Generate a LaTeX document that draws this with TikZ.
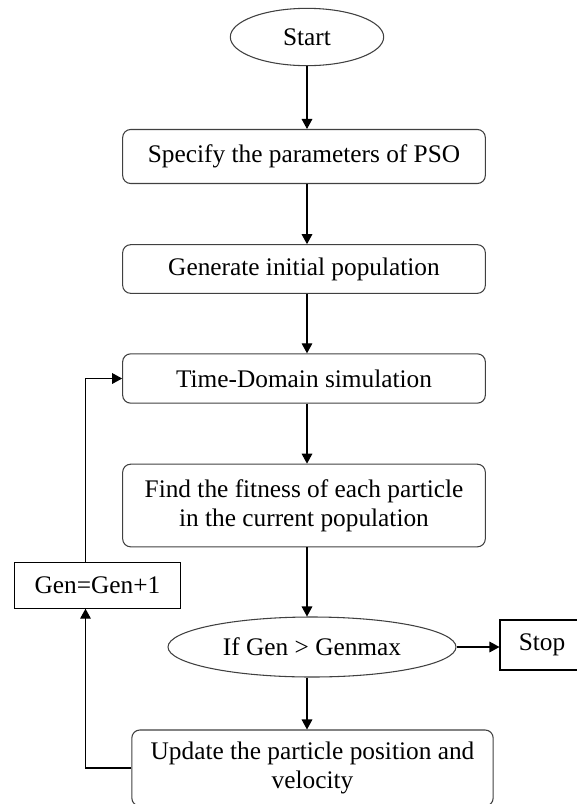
\documentclass[tikz,border=0pt]{standalone}
\usepackage{fontspec}
\setmainfont{Liberation Serif}
\usetikzlibrary{arrows.meta,shapes.geometric}
\begin{document}
\begin{tikzpicture}[x=0.75pt,y=-0.75pt,
  every node/.style={font=\fontsize{19}{22}\selectfont},
  proc/.style={draw=black!75, line width=0.8pt, rounded corners=6pt, minimum width=272pt, align=center, inner sep=0pt},
  term/.style={draw=black!75, line width=0.8pt, ellipse, inner sep=0pt},
  plainbox/.style={draw, line width=0.8pt, inner sep=0pt},
  flow/.style={line width=0.8pt, -{Triangle[length=7.5pt,width=8pt]}}]
\useasboundingbox (0,0) rectangle (576,804);
\node[term, minimum width=115pt, minimum height=43pt] (start) at (307,37) {Start};
\node[proc, minimum height=40.5pt] (param) at (304,156.5) {Specify the parameters of PSO};
\node[proc, minimum height=36.5pt] (init) at (304,269) {Generate initial population};
\node[proc, minimum height=37pt] (sim) at (304,378.5) {Time-Domain simulation};
\node[proc, minimum height=62pt] (fit) at (304,505.5) {Find the fitness of each particle\\in the current population};
\node[term, minimum width=216pt, minimum height=45pt] (cond) at (312,647) {If Gen > Genmax};
\node[plainbox, minimum width=63pt, minimum height=37.5pt] (stop) at (542,645) {Stop};
\node[plainbox, minimum width=125pt, minimum height=34pt] (gen) at (97.5,585.5) {Gen=Gen+1};
\node[proc, minimum width=271pt, minimum height=57pt] (upd) at (312.5,768) {Update the particle position and\\velocity};
% main column
\draw[flow] (start.south -| 307,0) -- (307,0 |- param.north);
\draw[flow] (param.south -| 307,0) -- (307,0 |- init.north);
\draw[flow] (init.south -| 307,0) -- (307,0 |- sim.north);
\draw[flow] (sim.south -| 307,0) -- (307,0 |- fit.north);
\draw[flow] (fit.south -| 307,0) -- (307,0 |- cond.north);
\draw[flow] (cond.south -| 307,0) -- (307,0 |- upd.north);
\draw[flow] (cond.east) -- (cond.east -| stop.west);
% loop back
\draw[flow] (upd.west) -| ([xshift=-9pt]gen.south);
\draw[flow] ([xshift=-9pt]gen.north) |- (sim.west);
\end{tikzpicture}
\end{document}
